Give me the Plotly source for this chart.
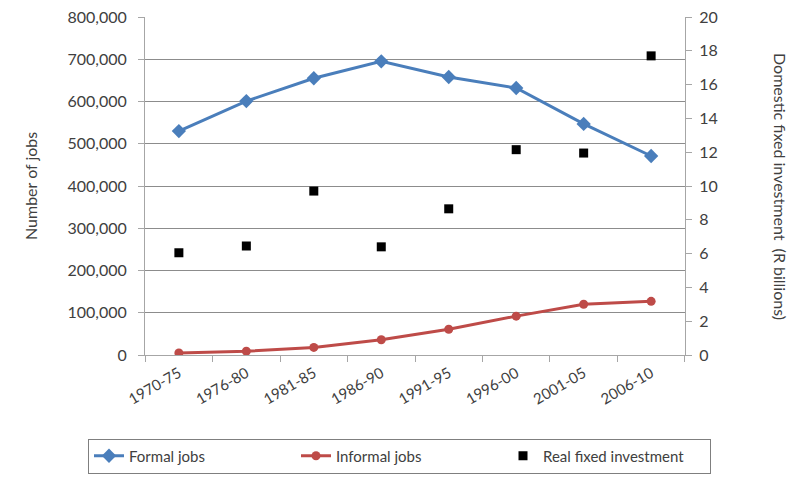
import plotly.graph_objects as go

periods = ["1970-75", "1976-80", "1981-85", "1986-90", "1991-95", "1996-00", "2001-05", "2006-10"]
formal_jobs = [530000, 601000, 655000, 695000, 658000, 632000, 547000, 471000]
informal_jobs = [5000, 9000, 18000, 36000, 61000, 92000, 120000, 127000]
real_fixed_investment = [6.05, 6.45, 9.7, 6.4, 8.65, 12.15, 11.95, 17.7]

left_ticks = list(range(0, 800001, 100000))
right_ticks = list(range(0, 21, 2))

font_family = "Lato, 'Open Sans', sans-serif"
text_color = "#404040"
axis_color = "#a6a6a6"

fig = go.Figure()

fig.add_trace(go.Scatter(
    x=periods, y=formal_jobs, name="Formal jobs", mode="lines+markers",
    line=dict(color="#4a7ebb", width=3),
    marker=dict(symbol="diamond", size=11, color="#4a7ebb"),
))
fig.add_trace(go.Scatter(
    x=periods, y=informal_jobs, name="Informal jobs", mode="lines+markers",
    line=dict(color="#be4b48", width=3),
    marker=dict(symbol="circle", size=9, color="#be4b48"),
))
fig.add_trace(go.Scatter(
    x=periods, y=real_fixed_investment, name="Real fixed investment", mode="markers",
    marker=dict(symbol="square", size=9, color="black"),
    yaxis="y2",
))

fig.update_layout(
    width=796, height=486,
    margin=dict(l=145, r=111, t=17, b=131),
    paper_bgcolor="white", plot_bgcolor="white",
    font=dict(family=font_family, size=16, color=text_color),
    xaxis=dict(
        type="category", tickangle=-30, tickson="boundaries",
        ticks="outside", ticklen=6, tickcolor=axis_color, automargin=False,
        showline=True, linecolor=axis_color, linewidth=1,
        showgrid=False, tickfont=dict(size=15, color=text_color),
        ticklabelstandoff=3,
    ),
    yaxis=dict(
        range=[0, 800000], tickvals=left_ticks,
        ticktext=[f"{v:,}" for v in left_ticks],
        showgrid=True, gridcolor="#8c8c8c", gridwidth=1, automargin=False,
        showline=True, linecolor=axis_color, ticks="outside", ticklen=6,
        tickcolor=axis_color, zeroline=False, ticklabelstandoff=8,
        tickfont=dict(size=16, color=text_color),
    ),
    yaxis2=dict(
        range=[0, 20], tickvals=right_ticks, overlaying="y", side="right",
        showgrid=False, showline=True, linecolor=axis_color, ticks="outside",
        ticklen=6, tickcolor=axis_color, zeroline=False, automargin=False,
        ticklabelstandoff=4, tickfont=dict(size=16, color=text_color),
    ),
    legend=dict(
        orientation="h", x=(88 - 145) / 540, xanchor="left",
        y=(355 - 456) / 338, yanchor="middle",
        bordercolor="#7f7f7f", borderwidth=1, entrywidth=162, itemwidth=30,
        font=dict(size=15, color=text_color),
    ),
    annotations=[
        dict(
            text="Number of jobs", textangle=-90,
            xref="paper", yref="paper", x=(30 - 145) / 540, xanchor="center",
            y=0.5, showarrow=False, font=dict(size=16, color=text_color),
        ),
        dict(
            text="Domestic fixed investment  (R billions)", textangle=90,
            xref="paper", yref="paper", x=(781 - 145) / 540, xanchor="center",
            y=0.5, showarrow=False, font=dict(size=16, color=text_color),
        ),
    ],
)

fig.write_html("out.html")
